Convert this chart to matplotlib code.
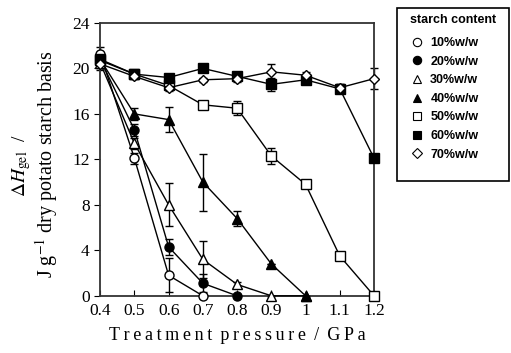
import numpy as np
import matplotlib.pyplot as plt
from matplotlib.patches import Rectangle

plt.rcParams['font.family'] = 'Liberation Serif'
plt.rcParams['mathtext.fontset'] = 'stix'

labels = ['10%w/w', '20%w/w', '30%w/w', '40%w/w', '50%w/w', '60%w/w', '70%w/w']
markers = ['o', 'o', '^', '^', 's', 's', 'D']
filled = [False, True, False, True, False, True, False]

p10 = [0.4, 0.5, 0.6, 0.7]
h10 = [21.3, 12.1, 1.8, 0.0]
e10 = [0.6, 0.5, 1.5, 0.0]

p20 = [0.4, 0.5, 0.6, 0.7, 0.8]
h20 = [20.8, 14.6, 4.3, 1.1, 0.0]
e20 = [0.5, 0.5, 0.7, 0.8, 0.0]

p30 = [0.4, 0.5, 0.6, 0.7, 0.8, 0.9, 1.0]
h30 = [20.5, 13.4, 8.0, 3.2, 1.0, 0.0, 0.0]
e30 = [0.5, 0.5, 1.9, 1.6, 0.2, 0.0, 0.0]

p40 = [0.4, 0.5, 0.6, 0.7, 0.8, 0.9, 1.0]
h40 = [20.8, 16.0, 15.5, 10.0, 6.8, 2.8, 0.0]
e40 = [0.5, 0.5, 1.1, 2.5, 0.7, 0.0, 0.0]

p50 = [0.4, 0.5, 0.6, 0.7, 0.8, 0.9, 1.0, 1.1, 1.2]
h50 = [20.7, 19.5, 18.5, 16.8, 16.5, 12.3, 9.8, 3.5, 0.0]
e50 = [0.5, 0.3, 0.3, 0.2, 0.6, 0.7, 0.2, 0.2, 0.0]

p60 = [0.4, 0.5, 0.6, 0.7, 0.8, 0.9, 1.0, 1.1, 1.2]
h60 = [20.8, 19.5, 19.2, 20.0, 19.3, 18.6, 19.0, 18.2, 12.1]
e60 = [0.5, 0.2, 0.3, 0.3, 0.3, 0.6, 0.3, 0.4, 0.3]

p70 = [0.4, 0.5, 0.6, 0.7, 0.8, 0.9, 1.0, 1.1, 1.2]
h70 = [20.4, 19.3, 18.3, 19.0, 19.1, 19.7, 19.4, 18.3, 19.1]
e70 = [0.5, 0.2, 0.3, 0.2, 0.3, 0.7, 0.3, 0.3, 0.9]

pressures = [p10, p20, p30, p40, p50, p60, p70]
enthalpy = [h10, h20, h30, h40, h50, h60, h70]
errors = [e10, e20, e30, e40, e50, e60, e70]

fig = plt.figure(figsize=(5.11, 3.53), dpi=100)
ax = fig.add_axes([0.196, 0.162, 0.536, 0.773])

handles = []
for p, h, e, m, f, lab in zip(pressures, enthalpy, errors, markers, filled, labels):
    ms = 5.5 if m == 'D' else 6.5
    ax.errorbar(p, h, yerr=e, color='black', lw=1.0, elinewidth=1.0,
                capsize=3, capthick=1.0, fmt='none', zorder=2, clip_on=False)
    ax.plot(p, h, color='black', lw=1.0, marker=m, ms=ms, clip_on=False,
            mfc='black' if f else 'white', mec='black', mew=1.0, zorder=3)
    hd, = ax.plot([], [], ls='none', marker=m, ms=6 if m != 'D' else 5.5,
                  mfc='black' if f else 'white', mec='black', mew=0.8)
    handles.append(hd)

ax.set_xlim(0.4, 1.2)
ax.set_ylim(0, 24)
ax.set_xticks([0.4, 0.5, 0.6, 0.7, 0.8, 0.9, 1.0, 1.1, 1.2])
ax.set_xticklabels(['0.4', '0.5', '0.6', '0.7', '0.8', '0.9', '1', '1.1', '1.2'])
ax.set_yticks([0, 4, 8, 12, 16, 20, 24])
ax.tick_params(axis='x', direction='in', length=4, labelsize=12.5, pad=5)
ax.tick_params(axis='y', direction='out', length=4, labelsize=12.5)
for s in ax.spines.values():
    s.set_linewidth(1.3)
    s.set_color('#333333')

ts = '\u2009'
ax.set_xlabel(ts.join('Treatment') + ' ' + ts + ts.join('pressure') + ' ' + ts + '/'
              + ts + ' ' + ts.join('GPa'), fontsize=13, labelpad=6)

# two-line y label
fig.text(22 / 511, 1 - 166 / 353, '$\\Delta H_{\\rm gel}$  /', rotation=90,
         ha='center', va='center', fontsize=14)
fig.text(47 / 511, 1 - 164 / 353, 'J g$^{-1}$ dry potato starch basis', rotation=90,
         ha='center', va='center', fontsize=14.5)

# legend box with title
fig.patches.append(Rectangle((397 / 511, 1 - 181 / 353), 112 / 511, 173 / 353,
                             transform=fig.transFigure, fill=False,
                             lw=1.2, ec='black'))
fig.text(453 / 511, 1 - 20 / 353, 'starch content', ha='center', va='center',
         family='Liberation Sans', weight='bold', fontsize=9)
leg = fig.legend(handles, labels, loc='upper left',
                 bbox_to_anchor=(399 / 511, 1 - 27 / 353), frameon=False,
                 handletextpad=0.5, labelspacing=0.53,
                 borderpad=0.3, handlelength=1.2,
                 prop={'family': 'Liberation Sans', 'weight': 'bold', 'size': 9})

fig.savefig('out.png', dpi=100)
